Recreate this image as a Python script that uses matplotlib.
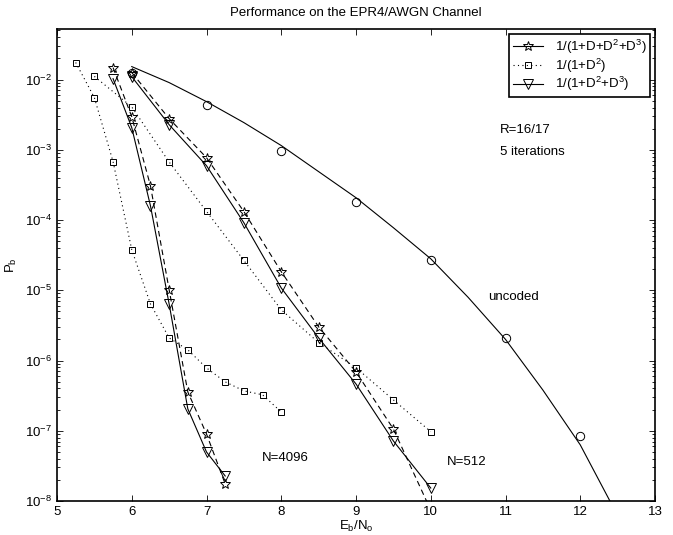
import matplotlib

matplotlib.use("Agg")
import matplotlib.pyplot as plt
from matplotlib.lines import Line2D
from matplotlib.ticker import LogLocator, NullFormatter

plt.rcParams["font.family"] = ["Liberation Sans", "DejaVu Sans"]
plt.rcParams["mathtext.fontset"] = "custom"
plt.rcParams["mathtext.rm"] = "Liberation Sans"
plt.rcParams["mathtext.it"] = "Liberation Sans:italic"
plt.rcParams["mathtext.default"] = "regular"

# uncoded: theory curve + simulated points
unc_curve_x = [6, 6.5, 7, 7.5, 8, 8.5, 9, 9.5, 10, 10.5, 11, 11.5, 12, 12.5]
unc_curve_y = [1.53e-2, 9.06e-3, 4.85e-3, 2.44e-3, 1.15e-3, 4.89e-4, 2.08e-4,
               7.78e-5, 2.81e-5, 7.94e-6, 2.0e-6, 3.8e-7, 6.3e-8, 6.2e-9]
unc_pts_x = [6, 7, 8, 9, 10, 11, 12]
unc_pts_y = [1.24e-2, 4.4e-3, 9.7e-4, 1.82e-4, 2.7e-5, 2.1e-6, 8.4e-8]

# N=4096
x4096_star = [5.75, 6, 6.25, 6.5, 6.75, 7, 7.25]
y4096_star = [1.48e-2, 2.96e-3, 3.08e-4, 1.02e-5, 3.57e-7, 9.0e-8, 1.75e-8]
x4096_tri = [5.75, 6, 6.25, 6.5, 6.75, 7, 7.25]
y4096_tri = [1.03e-2, 2.07e-3, 1.60e-4, 6.4e-6, 2.05e-7, 4.99e-8, 2.27e-8]
x4096_sq = [5.25, 5.5, 5.75, 6, 6.25, 6.5, 6.75, 7, 7.25, 7.5, 7.75, 8]
y4096_sq = [1.75e-2, 5.53e-3, 6.78e-4, 3.78e-5, 6.4e-6, 2.1e-6, 1.42e-6,
            7.85e-7, 4.97e-7, 3.7e-7, 3.25e-7, 1.85e-7]

# N=512
x512_star = [6, 6.5, 7, 7.5, 8, 8.5, 9, 9.5, 10]
y512_star = [1.26e-2, 2.78e-3, 7.73e-4, 1.32e-4, 1.84e-5, 3.02e-6, 6.9e-7, 1.06e-7, 7.4e-9]
x512_tri = [6, 6.5, 7, 7.5, 8, 8.5, 9, 9.5, 10]
y512_tri = [1.10e-2, 2.28e-3, 5.94e-4, 9.16e-5, 1.08e-5, 2.1e-6, 4.64e-7, 7.16e-8, 1.53e-8]
x512_sq = [5.5, 6, 6.5, 7, 7.5, 8, 8.5, 9, 9.5, 10]
y512_sq = [1.11e-2, 4.08e-3, 6.71e-4, 1.33e-4, 2.66e-5, 5.27e-6, 1.80e-6, 7.9e-7, 2.75e-7, 9.7e-8]

x_ticks = [5, 6, 7, 8, 9, 10, 11, 12, 13]
y_ticks = [1e-8, 1e-7, 1e-6, 1e-5, 1e-4, 1e-3, 1e-2]
legend_labels = [r"1/(1+D+D$^2$+D$^3$)", r"1/(1+D$^2$)", r"1/(1+D$^2$+D$^3$)"]

FS = 9.5
LW = 0.8
DASH = (0, (5, 3.5))
DOT = (0, (1, 3))
star = dict(marker="*", ms=7.5, mfc="none", mec="k", mew=0.7)
tri = dict(marker="v", ms=7, mfc="none", mec="k", mew=0.7)
sq = dict(marker="s", ms=5, mfc="none", mec="k", mew=0.7)

fig = plt.figure(figsize=(6.73, 5.35), dpi=100)
ax = fig.add_axes([57 / 673, 34 / 535, 598 / 673, 472 / 535])

ax.plot(unc_curve_x, unc_curve_y, color="k", lw=LW)
ax.plot(unc_pts_x, unc_pts_y, ls="none", marker="o", ms=6, mfc="none", mec="k", mew=0.7)

for xs, ys in [(x4096_star, y4096_star), (x512_star, y512_star)]:
    ax.plot(xs, ys, color="k", lw=LW, ls=DASH, **star)
for xs, ys in [(x4096_tri, y4096_tri), (x512_tri, y512_tri)]:
    ax.plot(xs, ys, color="k", lw=LW, ls="-", **tri)
for xs, ys in [(x4096_sq, y4096_sq), (x512_sq, y512_sq)]:
    ax.plot(xs, ys, color="k", lw=LW, ls=DOT, **sq)

ax.set_yscale("log")
ax.set_xlim(5, 13)
ax.set_ylim(1e-8, 10 ** -1.28)
ax.set_xticks(x_ticks)
ax.set_yticks(y_ticks)
ax.yaxis.set_minor_locator(LogLocator(base=10, subs=range(2, 10), numticks=20))
ax.yaxis.set_minor_formatter(NullFormatter())
ax.tick_params(which="both", direction="in", top=True, right=True, labelsize=FS, width=0.6)
ax.tick_params(which="major", length=4.3)
ax.tick_params(which="minor", length=2.2)
for s in ax.spines.values():
    s.set_linewidth(1.2)

ax.set_title("Performance on the EPR4/AWGN Channel", fontsize=FS, pad=9)
ax.set_xlabel(r"E$_b$/N$_o$", fontsize=FS, labelpad=1)
ax.set_ylabel(r"P$_b$", fontsize=FS, labelpad=4)

ax.text(10.93, 10 ** -2.713, "R=16/17", fontsize=FS, va="center")
ax.text(10.93, 10 ** -3.03, "5 iterations", fontsize=FS, va="center")
ax.text(10.77, 10 ** -5.093, "uncoded", fontsize=FS, va="center")
ax.text(7.74, 10 ** -7.387, "N=4096", fontsize=FS, va="center")
ax.text(10.22, 10 ** -7.444, "N=512", fontsize=FS, va="center")

handles = [
    Line2D([], [], color="k", lw=LW, ls="-", **star),
    Line2D([], [], color="k", lw=LW, ls=DOT, **sq),
    Line2D([], [], color="k", lw=LW, ls="-", **tri),
]
leg = ax.legend(handles, legend_labels, loc="upper right", fontsize=FS, fancybox=False,
                edgecolor="k", framealpha=1, handlelength=2.3, handletextpad=0.9,
                borderaxespad=0.4, labelspacing=0.05, borderpad=0.25)
leg.get_frame().set_linewidth(1.2)

fig.savefig("out.png", dpi=100)
